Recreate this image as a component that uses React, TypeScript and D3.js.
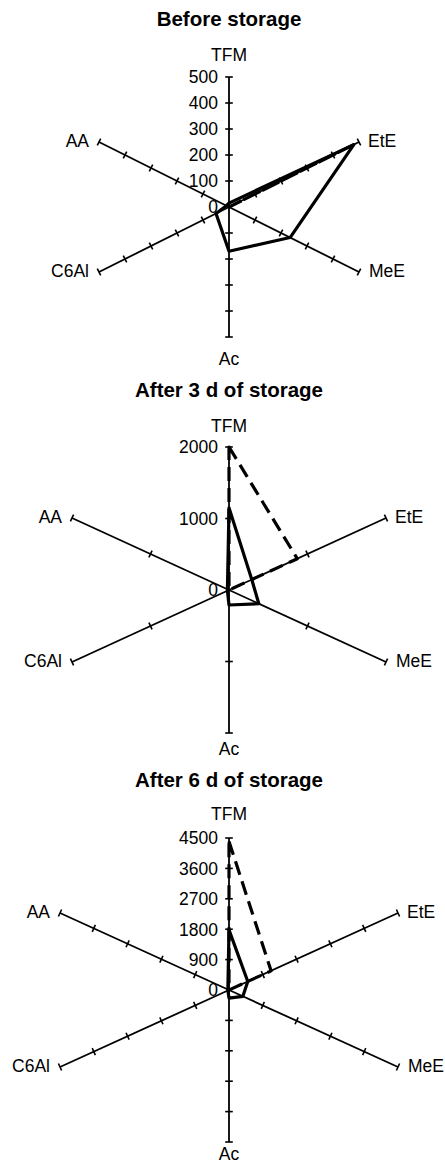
import * as d3 from "d3";

// axis order around the radar, clockwise from top
const AXES = ["TFM", "EtE", "MeE", "Ac", "C6Al", "AA"];

const TITLES = ["Before storage", "After 3 d of storage", "After 6 d of storage"];
const MAX_VALUES = [500, 2000, 4500];
const TICK_STEPS = [100, 1000, 900];

// values per chart, in AXES order
const SOLID_VALUES = [
  [15, 480, 235, 170, 50, 10],
  [1150, 290, 380, 210, 20, 20],
  [1780, 500, 370, 240, 30, 30],
];
const DASHED_VALUES = [
  [0, 485, 0, 0, 0, 0],
  [2000, 870, 0, 0, 0, 0],
  [4400, 1120, 0, 0, 0, 0],
];

const LAYOUT = [
  { cx: 229, cy: 207, rV: 130, dx: 130, dy: 65, titleY: 26, tfmY: 61, acY: 365 },
  { cx: 229, cy: 590, rV: 143, dx: 157, dy: 72, titleY: 397, tfmY: 432, acY: 755 },
  { cx: 229, cy: 990, rV: 152, dx: 169, dy: 77, titleY: 787, tfmY: 820, acY: 1160 },
];

const FONT = "Arial, 'Liberation Sans', sans-serif";
const FS = 17.5;

type Lay = (typeof LAYOUT)[number];

function axisVectors(l: Lay): [number, number][] {
  return [
    [0, -l.rV],
    [l.dx, -l.dy],
    [l.dx, l.dy],
    [0, l.rV],
    [-l.dx, l.dy],
    [-l.dx, -l.dy],
  ];
}

function Radar({ idx }: { idx: number }) {
  const l = LAYOUT[idx];
  const max = MAX_VALUES[idx];
  const step = TICK_STEPS[idx];
  const vecs = axisVectors(l);
  const frac = d3.scaleLinear().domain([0, max]).range([0, 1]);
  const ticks = d3.range(0, max + step / 2, step);

  const pt = (axis: number, v: number): [number, number] => [
    l.cx + vecs[axis][0] * frac(v),
    l.cy + vecs[axis][1] * frac(v),
  ];

  const line = d3.line<[number, number]>().curve(d3.curveLinearClosed);
  const solidPath = line(SOLID_VALUES[idx].map((v, i) => pt(i, v))) ?? "";
  const dashedPath = line(DASHED_VALUES[idx].map((v, i) => pt(i, v))) ?? "";

  return (
    <g>
      <text x={l.cx} y={l.titleY} textAnchor="middle" fontFamily={FONT} fontWeight="bold" fontSize={20.5}>
        {TITLES[idx]}
      </text>

      {/* axes with ticks */}
      {vecs.map(([vx, vy], a) => {
        const len = Math.hypot(vx, vy);
        const px = (-vy / len) * 3.8;
        const py = (vx / len) * 3.8;
        return (
          <g key={a}>
            <line x1={l.cx} y1={l.cy} x2={l.cx + vx} y2={l.cy + vy} stroke="#000" strokeWidth={1.8} />
            {ticks.slice(1).map((t) => {
              const [x, y] = pt(a, t);
              return (
                <line key={t} x1={x - px} y1={y - py} x2={x + px} y2={y + py} stroke="#000" strokeWidth={1.6} />
              );
            })}
          </g>
        );
      })}

      {/* tick labels on TFM axis */}
      {ticks.map((t) => (
        <text
          key={t}
          x={l.cx - 11}
          y={pt(0, t)[1]}
          dy="0.36em"
          textAnchor="end"
          fontFamily={FONT}
          fontSize={FS}
        >
          {t}
        </text>
      ))}

      {/* series */}
      <path d={dashedPath} fill="none" stroke="#000" strokeWidth={3.2} strokeDasharray="14 7" strokeLinejoin="round" />
      <path d={solidPath} fill="none" stroke="#000" strokeWidth={3.2} strokeLinejoin="round" />

      {/* axis labels */}
      <text x={l.cx} y={l.tfmY} textAnchor="middle" fontFamily={FONT} fontSize={FS}>TFM</text>
      <text x={l.cx} y={l.acY} textAnchor="middle" fontFamily={FONT} fontSize={FS}>Ac</text>
      <text x={l.cx + l.dx + 9} y={l.cy - l.dy} dy="0.3em" fontFamily={FONT} fontSize={FS}>EtE</text>
      <text x={l.cx + l.dx + 10} y={l.cy + l.dy} dy="0.3em" fontFamily={FONT} fontSize={FS}>MeE</text>
      <text x={l.cx - l.dx - 10} y={l.cy + l.dy} dy="0.3em" textAnchor="end" fontFamily={FONT} fontSize={FS}>C6Al</text>
      <text x={l.cx - l.dx - 10} y={l.cy - l.dy} dy="0.3em" textAnchor="end" fontFamily={FONT} fontSize={FS}>AA</text>
    </g>
  );
}

export default function App() {
  return (
    <svg
      width={445}
      height={1165}
      style={{ position: "absolute", left: 0, top: 0, background: "#fff" }}
    >
      {TITLES.map((_, i) => (
        <Radar key={i} idx={i} />
      ))}
    </svg>
  );
}
